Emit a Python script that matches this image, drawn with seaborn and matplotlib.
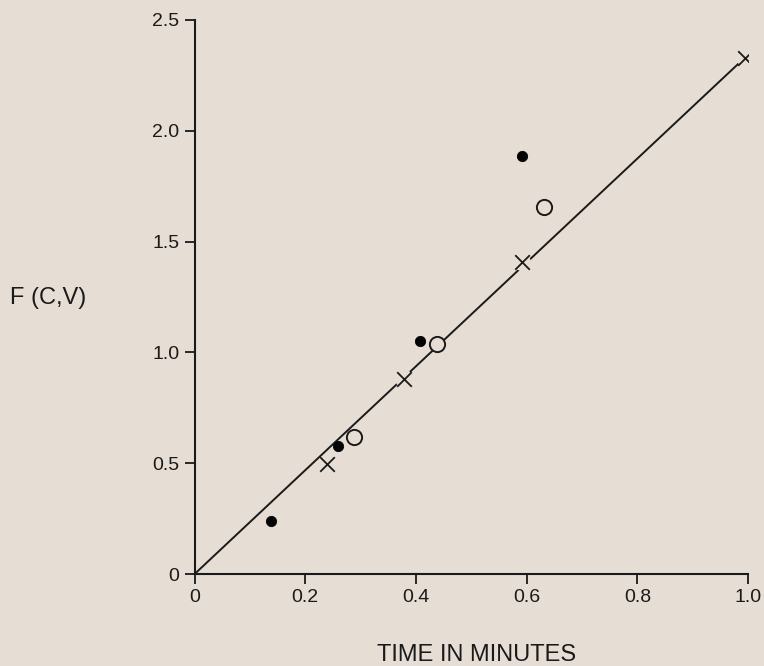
"""
F(C,V) against time in minutes: three sets of measurements and the
fitted straight line through the origin.
"""
import matplotlib
matplotlib.use("Agg")
import matplotlib.pyplot as plt
import seaborn as sns

BG = "#e6ddd4"

filled_t = [0.138, 0.259, 0.407, 0.592]
filled_f = [0.24, 0.578, 1.051, 1.886]

open_t = [0.288, 0.4375, 0.632]
open_f = [0.617, 1.037, 1.657]

cross_t = [0.239, 0.379, 0.591, 0.995]
cross_f = [0.496, 0.88, 1.409, 2.33]

# fitted line
fit_t = [0.0, 0.99]
fit_f = [0.0, 2.32]

x_ticks = [0, 0.2, 0.4, 0.6, 0.8, 1.0]
x_labels = ["0", "0.2", "0.4", "0.6", "0.8", "1.0"]
y_ticks = [0, 0.5, 1.0, 1.5, 2.0, 2.5]
y_labels = ["0", "0.5", "1.0", "1.5", "2.0", "2.5"]

sns.set_style("ticks")
plt.rcParams["font.family"] = ["Liberation Sans", "DejaVu Sans"]

if __name__ == "__main__":
    fig = plt.figure(figsize=(7.64, 6.66), dpi=100, facecolor=BG)
    ax = fig.add_axes([0.2546, 0.138, 0.7245, 0.832])
    ax.set_facecolor(BG)

    sns.lineplot(x=fit_t, y=fit_f, color="#1a1a1a", linewidth=1.4, ax=ax)

    # small gap in the line around the crosses
    sns.scatterplot(x=cross_t, y=cross_f, marker="o", s=170, color=BG,
                    edgecolor="none", ax=ax, zorder=3)
    sns.scatterplot(x=cross_t, y=cross_f, marker="x", s=110, color="#1a1a1a",
                    linewidth=1.3, ax=ax, zorder=4)
    sns.scatterplot(x=filled_t, y=filled_f, marker="o", s=55, color="black",
                    edgecolor="black", ax=ax, zorder=4)
    sns.scatterplot(x=open_t, y=open_f, marker="o", s=120, facecolor=BG,
                    edgecolor="#1a1a1a", linewidth=1.4, ax=ax, zorder=4)

    ax.set_xlim(0, 1.0)
    ax.set_ylim(0, 2.5)
    ax.set_xticks(x_ticks)
    ax.set_xticklabels(x_labels)
    ax.set_yticks(y_ticks)
    ax.set_yticklabels(y_labels)
    ax.tick_params(direction="out", length=7, width=1.3, labelsize=14,
                   colors="#1a1a1a", pad=4)

    sns.despine(ax=ax)
    for side in ["left", "bottom"]:
        ax.spines[side].set_linewidth(1.5)
        ax.spines[side].set_color("#1a1a1a")

    ax.set_xlabel("TIME IN MINUTES", fontsize=17, color="#1a1a1a",
                  va="center")
    ax.xaxis.set_label_coords(0.509, -0.146)
    ax.set_ylabel("F (C,V)", fontsize=17, color="#1a1a1a", rotation=0,
                  ha="left", va="center")
    ax.yaxis.set_label_coords(-0.333, 0.498)

    fig.savefig("out.png", dpi=100, facecolor=BG)
